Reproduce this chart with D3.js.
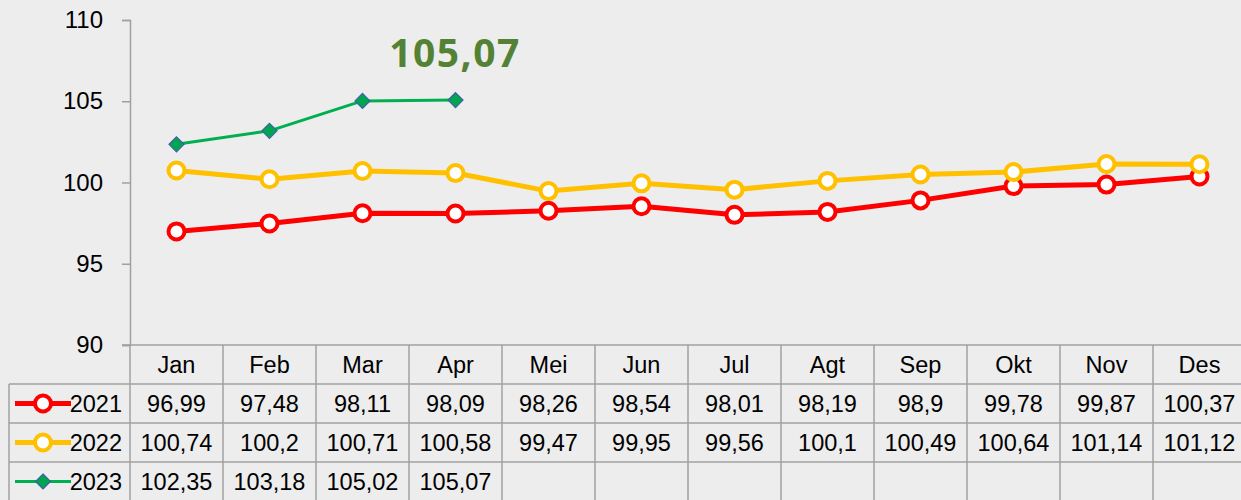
<!DOCTYPE html>
<html>
<head>
<meta charset="utf-8">
<script src="https://cdn.jsdelivr.net/npm/d3@7"></script>
<style>
  body { margin: 0; background: #ededed; }
  svg { display: block; font-family: "Liberation Sans", Arial, sans-serif; }
</style>
</head>
<body>
<svg id="chart"></svg>
<script>
var months = ["Jan", "Feb", "Mar", "Apr", "Mei", "Jun", "Jul", "Agt", "Sep", "Okt", "Nov", "Des"];
var years = ["2021", "2022", "2023"];
var v2021 = [96.99, 97.48, 98.11, 98.09, 98.26, 98.54, 98.01, 98.19, 98.9, 99.78, 99.87, 100.37];
var v2022 = [100.74, 100.2, 100.71, 100.58, 99.47, 99.95, 99.56, 100.1, 100.49, 100.64, 101.14, 101.12];
var v2023 = [102.35, 103.18, 105.02, 105.07];
var yTicks = [90, 95, 100, 105, 110];
var callout = "105,07";

var W = 1241, H = 500;
var svg = d3.select("#chart").attr("width", W).attr("height", H);
svg.append("rect").attr("width", W).attr("height", H).attr("fill", "#ededed");

var x = d3.scaleBand().domain(months).range([130, 1246]);
var y = d3.scaleLinear().domain([90, 110]).range([345, 20]);
var fmt = function(v) { return String(v).replace(".", ","); };

var gridCol = "#a0a0a0";

// y axis
var yAxis = d3.axisLeft(y).tickValues(yTicks).tickSize(8).tickPadding(19);
var ga = svg.append("g").attr("transform", "translate(130,0)").call(yAxis);
ga.select(".domain").attr("stroke", gridCol).attr("stroke-width", 1.5);
ga.selectAll(".tick line").attr("stroke", gridCol).attr("stroke-width", 1.5);
ga.selectAll(".tick text").attr("font-size", 24).attr("fill", "#000")
  .attr("font-family", "Liberation Sans, Arial, sans-serif");

// table
var rowTop = [345, 384, 423, 462];
var rowH = 39;
var tbl = svg.append("g");
// horizontal lines
rowTop.concat([501]).forEach(function(t, i) {
  tbl.append("line").attr("x1", i === 0 ? 122 : 9).attr("x2", W)
    .attr("y1", t).attr("y2", t).attr("stroke", gridCol).attr("stroke-width", 1.5);
});
tbl.append("line").attr("x1", 9).attr("x2", 9).attr("y1", 384).attr("y2", H)
  .attr("stroke", gridCol).attr("stroke-width", 1.5);
months.forEach(function(m) {
  tbl.append("line").attr("x1", x(m) + x.bandwidth()).attr("x2", x(m) + x.bandwidth())
    .attr("y1", 345).attr("y2", H).attr("stroke", gridCol).attr("stroke-width", 1.5);
});
tbl.append("line").attr("x1", 130).attr("x2", 130).attr("y1", 345).attr("y2", H)
  .attr("stroke", gridCol).attr("stroke-width", 1.5);

function cellText(txt, cx, cy) {
  tbl.append("text").attr("x", cx).attr("y", cy + rowH / 2).attr("dy", "0.36em")
    .attr("text-anchor", "middle").attr("font-size", 23.5).attr("fill", "#000").text(txt);
}
months.forEach(function(m) { cellText(m, x(m) + x.bandwidth() / 2, rowTop[0]); });

var series = [
  {name: years[0], values: v2021, color: "#ff0000", width: 5, marker: "circle"},
  {name: years[1], values: v2022, color: "#ffc000", width: 5, marker: "circle"},
  {name: years[2], values: v2023, color: "#00b050", width: 3, marker: "diamond"}
];

function drawMarker(g, s, cx, cy) {
  if (s.marker === "circle") {
    g.append("circle").attr("cx", cx).attr("cy", cy).attr("r", 8)
      .attr("fill", "#fff").attr("stroke", s.color).attr("stroke-width", 4);
  } else {
    g.append("path").attr("d", "M0,-7.5L7.5,0L0,7.5L-7.5,0Z")
      .attr("transform", "translate(" + cx + "," + cy + ")")
      .attr("fill", "#00a550").attr("stroke", "#3f5fa8").attr("stroke-width", 1.2);
  }
}

series.forEach(function(s, i) {
  var t = rowTop[i + 1];
  s.values.forEach(function(v, j) { cellText(fmt(v), x(months[j]) + x.bandwidth() / 2, t); });
  // legend key
  var cy = t + rowH / 2;
  tbl.append("line").attr("x1", 15).attr("x2", 71).attr("y1", cy).attr("y2", cy)
    .attr("stroke", s.color).attr("stroke-width", s.width);
  drawMarker(tbl, s, 43, cy);
  tbl.append("text").attr("x", 122).attr("y", cy).attr("dy", "0.36em")
    .attr("text-anchor", "end").attr("font-size", 23.5).attr("fill", "#000").text(s.name);
});

// lines
var line = d3.line()
  .x(function(d, j) { return x(months[j]) + x.bandwidth() / 2; })
  .y(function(d) { return y(d); });

series.forEach(function(s) {
  var g = svg.append("g");
  g.append("path").datum(s.values).attr("d", line).attr("fill", "none")
    .attr("stroke", s.color).attr("stroke-width", s.width).attr("stroke-linejoin", "round");
  s.values.forEach(function(v, j) { drawMarker(g, s, x(months[j]) + x.bandwidth() / 2, y(v)); });
});

// callout
svg.append("text").attr("x", 455).attr("y", 67).attr("text-anchor", "middle")
  .attr("font-family", "Open Sans, Noto Sans, sans-serif").attr("font-weight", "bold")
  .attr("font-size", 39).attr("letter-spacing", 1.5).attr("fill", "#548235").text(callout);
</script>
</body>
</html>
